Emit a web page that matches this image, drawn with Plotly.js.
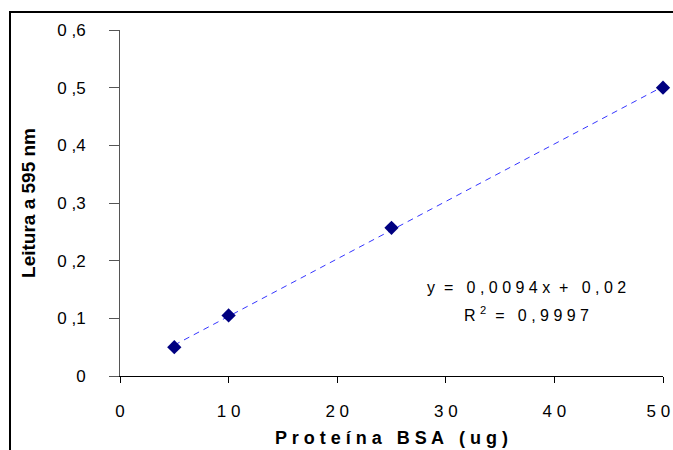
<!DOCTYPE html>
<html>
<head>
<meta charset="utf-8">
<script src="https://cdn.plot.ly/plotly-3.0.1.min.js"></script>
<style>
  html, body { margin: 0; padding: 0; background: #fff; }
  #wrap { position: relative; width: 673px; height: 450px; overflow: hidden; }
  #chart { width: 673px; height: 450px; }
  #frame { position: absolute; left: 9px; top: 11px; width: 700px; height: 500px;
           border-left: 2px solid #000; border-top: 2px solid #000; pointer-events: none; }
</style>
</head>
<body>
<div id="wrap">
  <div id="chart"></div>
  <div id="frame"></div>
</div>
<script>
// Data
const proteinUg = [5, 10, 25, 50];
const absorbance = [0.05, 0.105, 0.257, 0.5];
const NB = "\u00a0";
const yTickVals = [0, 0.1, 0.2, 0.3, 0.4, 0.5, 0.6];
const yTickText = ["0", "0 ,1", "0 ,2", "0 ,3", "0 ,4", "0 ,5", "0 ,6"];
const xTickVals = [0, 10, 20, 30, 40, 50];
const xTickText = ["0", "1 0", "2 0", "3 0", "4 0", "5 0" + NB + NB];
const equationText = "y" + NB + NB + "=" + NB + NB + " 0 , 0 0 9 4 x" + NB + NB + "+" + NB + NB + " 0 , 0 2";
const r2Text = "R <sup>2</sup>" + NB + NB + "=" + NB + NB + " 0 , 9 9 9 7";
const xTitle = "P r o t e í n a" + NB + NB + NB + "B S A" + NB + NB + NB + "( u g )";
const yTitle = "Leitura a 595 nm";

// Linear trendline from the data (least squares)
const n = proteinUg.length;
const mx = proteinUg.reduce((a, b) => a + b, 0) / n;
const my = absorbance.reduce((a, b) => a + b, 0) / n;
let sxy = 0, sxx = 0;
for (let i = 0; i < n; i++) { sxy += (proteinUg[i] - mx) * (absorbance[i] - my); sxx += (proteinUg[i] - mx) ** 2; }
const slope = sxy / sxx, intercept = my - slope * mx;
const trendX = [Math.min(...proteinUg), Math.max(...proteinUg)];
const trendY = trendX.map(x => intercept + slope * x);

const font = "Liberation Sans, Arial, sans-serif";

const data = [
  { x: trendX, y: trendY, type: "scatter", mode: "lines",
    line: { color: "#3535ff", width: 1, dash: "6px,5px" }, hoverinfo: "skip", cliponaxis: false },
  { x: proteinUg, y: absorbance, type: "scatter", mode: "markers",
    marker: { symbol: "diamond", size: 11, color: "#000080" }, cliponaxis: false }
];

const layout = {
  width: 673, height: 450,
  margin: { l: 120, r: 10, t: 30, b: 74 },
  paper_bgcolor: "#fff", plot_bgcolor: "#fff",
  showlegend: false,
  font: { family: font, size: 17, color: "#000" },
  xaxis: {
    range: [0, 50], tickvals: xTickVals, ticktext: xTickText,
    showgrid: false, zeroline: false, showline: true, linecolor: "#000", linewidth: 1,
    ticks: "outside", ticklen: 6, tickcolor: "#000", tickwidth: 1,
    ticklabelstandoff: 14, ticklabeloverflow: "allow",
    tickfont: { family: font, size: 17, color: "#000" },
    title: { text: xTitle, standoff: 10,
             font: { family: font, size: 18, color: "#000", weight: "bold" } }
  },
  yaxis: {
    range: [0, 0.6], tickvals: yTickVals, ticktext: yTickText,
    showgrid: false, zeroline: false, showline: true, linecolor: "#555", linewidth: 1,
    ticks: "outside", ticklen: 10, tickcolor: "#555", tickwidth: 1,
    ticklabelstandoff: 20, ticklabeloverflow: "allow",
    tickfont: { family: font, size: 17, color: "#000" },
    title: { text: yTitle, standoff: 16,
             font: { family: font, size: 19, color: "#000", weight: "bold" } }
  },
  annotations: [
    { xref: "paper", yref: "paper", x: 0.748, y: 0.256, text: equationText, showarrow: false,
      xanchor: "center", yanchor: "middle", font: { family: font, size: 16, color: "#000" } },
    { xref: "paper", yref: "paper", x: 0.7495, y: 0.179, text: r2Text, showarrow: false,
      xanchor: "center", yanchor: "middle", font: { family: font, size: 16, color: "#000" } }
  ]
};

Plotly.newPlot("chart", data, layout, { displayModeBar: false, staticPlot: true });
</script>
</body>
</html>
